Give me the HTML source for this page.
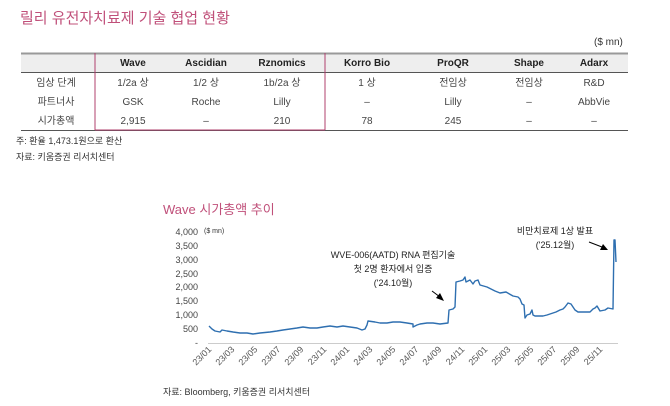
<!DOCTYPE html>
<html><head><meta charset="utf-8"><style>
body{margin:0;width:670px;height:406px;background:#fff;font-family:"Liberation Sans","Noto Sans CJK KR",sans-serif;color:#444;position:relative;overflow:hidden}
.a{position:absolute;white-space:nowrap}
</style></head><body>
<div class="a" style="left:20px;top:7px;font-size:15px;color:#c0507a">릴리 유전자치료제 기술 협업 현황</div>
<div class="a" style="left:594px;top:37px;font-size:10px;color:#333">($ mn)</div>
<svg class="a" style="left:0;top:0" width="670" height="406">
<rect x="21" y="53" width="607" height="19" fill="#eeeeee"/>
<line x1="21" y1="53.5" x2="628" y2="53.5" stroke="#999" stroke-width="2"/>
<line x1="21" y1="72.5" x2="628" y2="72.5" stroke="#555" stroke-width="1"/>
<line x1="21" y1="130.5" x2="628" y2="130.5" stroke="#555" stroke-width="1"/>
<line x1="95" y1="53" x2="95" y2="130" stroke="#b0406e" stroke-width="1"/>
<line x1="325" y1="53" x2="325" y2="130" stroke="#b0406e" stroke-width="1"/>
<line x1="95" y1="130" x2="325" y2="130" stroke="#b0406e" stroke-width="1"/>
<g font-size="10" text-anchor="middle" fill="#222" font-weight="bold">
<text x="133" y="66">Wave</text><text x="206" y="66">Ascidian</text><text x="282" y="66">Rznomics</text><text x="367" y="66">Korro Bio</text><text x="453" y="66">ProQR</text><text x="529" y="66">Shape</text><text x="594" y="66">Adarx</text></g>
<g font-size="10" text-anchor="middle" fill="#444">
<text x="56" y="86">임상 단계</text><text x="133" y="86">1/2a 상</text><text x="206" y="86">1/2 상</text><text x="282" y="86">1b/2a 상</text><text x="367" y="86">1 상</text><text x="453" y="86">전임상</text><text x="529" y="86">전임상</text><text x="594" y="86">R&amp;D</text>
<text x="56" y="105">파트너사</text><text x="133" y="105">GSK</text><text x="206" y="105">Roche</text><text x="282" y="105">Lilly</text><text x="367" y="105">–</text><text x="453" y="105">Lilly</text><text x="529" y="105">–</text><text x="594" y="105">AbbVie</text>
<text x="56" y="124">시가총액</text><text x="133" y="124">2,915</text><text x="206" y="124">–</text><text x="282" y="124">210</text><text x="367" y="124">78</text><text x="453" y="124">245</text><text x="529" y="124">–</text><text x="594" y="124">–</text></g>
<text x="16" y="144" font-size="9" fill="#333">주: 환율 1,473.1원으로 환산</text>
<text x="16" y="160" font-size="9" fill="#333">자료: 키움증권 리서치센터</text>
<text x="163" y="214" font-size="13" fill="#c0507a">Wave 시가총액 추이</text>
<text x="204" y="233" font-size="7" fill="#333">($ mn)</text>
<g font-size="9" text-anchor="end" fill="#444">
<text x="198" y="235">4,000</text><text x="198" y="249">3,500</text><text x="198" y="263">3,000</text><text x="198" y="277">2,500</text><text x="198" y="290">2,000</text><text x="198" y="304">1,500</text><text x="198" y="318">1,000</text><text x="198" y="332">500</text><text x="198" y="346">-</text></g>
<line x1="208" y1="343.5" x2="618" y2="343.5" stroke="#ccc"/>
<g font-size="9" text-anchor="end" fill="#555">
<text transform="translate(212,350) rotate(-45)">23/01</text>
<text transform="translate(235,350) rotate(-45)">23/03</text>
<text transform="translate(258,350) rotate(-45)">23/05</text>
<text transform="translate(281,350) rotate(-45)">23/07</text>
<text transform="translate(304,350) rotate(-45)">23/09</text>
<text transform="translate(327,350) rotate(-45)">23/11</text>
<text transform="translate(350,350) rotate(-45)">24/01</text>
<text transform="translate(373,350) rotate(-45)">24/03</text>
<text transform="translate(396,350) rotate(-45)">24/05</text>
<text transform="translate(419,350) rotate(-45)">24/07</text>
<text transform="translate(442,350) rotate(-45)">24/09</text>
<text transform="translate(465,350) rotate(-45)">24/11</text>
<text transform="translate(488,350) rotate(-45)">25/01</text>
<text transform="translate(511,350) rotate(-45)">25/03</text>
<text transform="translate(534,350) rotate(-45)">25/05</text>
<text transform="translate(557,350) rotate(-45)">25/07</text>
<text transform="translate(580,350) rotate(-45)">25/09</text>
<text transform="translate(603,350) rotate(-45)">25/11</text></g>
<polyline fill="none" stroke="#2e6fb0" stroke-width="1.4" stroke-linejoin="round" points="209,326 212,329 215,331 220,332 222,330 227,331 233,332 240,333 247,333 253,334 260,333 270,332 277,331 283,330 290,329 297,328 303,327 310,328 317,328 323,327 330,326 337,327 343,326 350,327 357,328 362,330 365,329 367,325 368,321 375,322 380,323 387,323 393,322 400,322 407,323 413,324 413,327 417,325 420,324 427,323 433,323 440,324 448,323 449,310 453,309 455,307 456,282 460,281 463,280 465,277 466,282 468,281 470,280 473,284 475,281 478,280 480,285 487,287 493,290 495,291 500,293 506,292 513,296 518,297 520,299 522,304 524,305 525,318 527,315 530,314 532,310 533,315 535,316 543,316 547,315 550,314 556,312 560,310 563,309 565,307 568,303 571,304 575,310 578,312 580,312 590,312 593,309 595,308 597,306 600,311 605,310 608,308 613,309 614,240 615,240 616,262"/>
<g font-size="9" text-anchor="middle" fill="#222">
<text x="393" y="258">WVE-006(AATD) RNA 편집기술</text>
<text x="393" y="272">첫 2명 환자에서 입증</text>
<text x="393" y="286">('24.10월)</text>
<text x="555" y="234">비만치료제 1상 발표</text>
<text x="555" y="248">('25.12월)</text></g>
<line x1="432" y1="291" x2="440" y2="297" stroke="#000"/>
<polygon points="444,301 436,298 440,293" fill="#000"/>
<line x1="589" y1="242" x2="602" y2="247" stroke="#000"/>
<polygon points="608,250 600,250 603,244" fill="#000"/>
<text x="163" y="395" font-size="9" fill="#333">자료: Bloomberg, 키움증권 리서치센터</text>
</svg>
</body></html>
